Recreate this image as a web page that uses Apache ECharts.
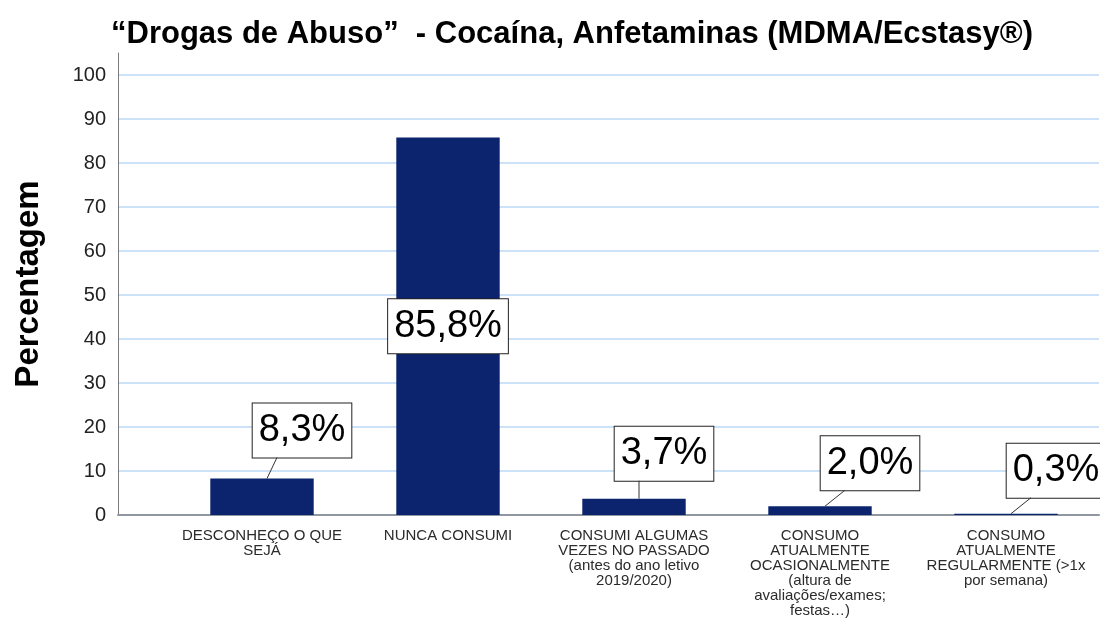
<!DOCTYPE html>
<html>
<head>
<meta charset="utf-8">
<script src="https://cdn.jsdelivr.net/npm/echarts@6/dist/echarts.min.js"></script>
<style>
  html, body { margin: 0; padding: 0; background: #ffffff; }
  #chart { width: 1100px; height: 624px; }
</style>
</head>
<body>
<div id="chart"></div>
<script>
// Response categories (x axis)
const categories = [
  'DESCONHEÇO O QUE\nSEJÁ',
  'NUNCA CONSUMI',
  'CONSUMI ALGUMAS\nVEZES NO PASSADO\n(antes do ano letivo\n2019/2020)',
  'CONSUMO\nATUALMENTE\nOCASIONALMENTE\n(altura de\navaliações/exames;\nfestas…)',
  'CONSUMO\nATUALMENTE\nREGULARMENTE (>1x\npor semana)'
];

// Percentage of respondents per category
const percentages = [8.3, 85.8, 3.7, 2.0, 0.3];

// Value axis ticks
const yTickMax = 100;
const yTickStep = 10;

const titleText = '“Drogas de Abuso”  - Cocaína, Anfetaminas (MDMA/Ecstasy®)';
const yAxisTitle = 'Percentagem';

// Callout placement: horizontal shift and gap above the bar
const labelShift = [40, 0, 30, 50, 50];
const labelGap = [21, 0, 18, 16, 16];
const insideIndex = 1;

const FONT = '"Liberation Sans", Arial, Helvetica, sans-serif';
const axisTop = 53, axisBottom = 109, axisMax = 105;

const chart = echarts.init(document.getElementById('chart'), null, { renderer: 'canvas' });

const fmt = v => v.toFixed(1).replace('.', ',') + '%';

chart.setOption({
  backgroundColor: '#ffffff',
  animation: false,
  title: {
    text: titleText,
    left: 572,
    top: 19,
    padding: 0,
    textAlign: 'center',
    textStyle: { fontFamily: FONT, fontSize: 31, fontWeight: 'bold', color: '#000000' }
  },
  grid: [
    // frame: value axis, grid lines and base line
    { left: 118, right: 1, top: axisTop, bottom: axisBottom, outerBoundsMode: 'none', containLabel: false },
    // bars and category labels
    { left: 169, width: 930, top: axisTop, bottom: axisBottom, outerBoundsMode: 'none', containLabel: false }
  ],
  xAxis: [
    {
      type: 'value', gridIndex: 0, min: 0, max: 1,
      axisLine: { show: true, onZero: false, lineStyle: { color: '#9097a0', width: 2 } },
      axisTick: { show: false }, axisLabel: { show: false }, splitLine: { show: false }
    },
    {
      type: 'category', gridIndex: 1, data: categories,
      axisLine: { show: false }, axisTick: { show: false },
      axisLabel: {
        interval: 0, margin: 13, fontFamily: FONT, fontSize: 15, lineHeight: 15,
        color: '#2b2b2b', align: 'center'
      },
      splitLine: { show: false }
    }
  ],
  yAxis: [
    {
      type: 'value', gridIndex: 0, min: 0, max: axisMax, interval: yTickStep,
      axisLine: { show: true, lineStyle: { color: '#7c7c7c', width: 1 } },
      axisTick: { show: false },
      axisLabel: {
        fontFamily: FONT, fontSize: 20, color: '#222222', margin: 12,
        showMaxLabel: false,
        formatter: v => (v > yTickMax ? '' : String(v))
      },
      splitLine: {
        show: true, showMinLine: false, showMaxLine: false,
        lineStyle: { color: '#cce2f8', width: 2 }
      },
      name: yAxisTitle,
      nameLocation: 'middle',
      nameGap: 73,
      nameTextStyle: { fontFamily: FONT, fontSize: 33, fontWeight: 'bold', color: '#000000' }
    },
    {
      type: 'value', gridIndex: 1, min: 0, max: axisMax, show: false
    }
  ],
  series: [
    {
      type: 'bar',
      xAxisIndex: 1,
      yAxisIndex: 1,
      barWidth: '55.6%',
      itemStyle: { color: '#0b246d' },
      data: percentages.map((v, i) => ({
        value: v,
        label: i === insideIndex
          ? { position: 'inside' }
          : { position: 'top', distance: labelGap[i] }
      })),
      label: {
        show: true,
        formatter: p => fmt(p.value),
        fontFamily: FONT,
        fontSize: 38,
        lineHeight: 40,
        color: '#000000',
        backgroundColor: '#ffffff',
        borderColor: '#222222',
        borderWidth: 1,
        padding: [7, 6]
      },
      labelLayout: p => ({ dx: labelShift[p.dataIndex] })
    },
    {
      // leader lines from each bar top to its shifted callout
      type: 'custom',
      xAxisIndex: 1,
      yAxisIndex: 1,
      silent: true,
      z: 3,
      data: percentages.map((v, i) => [i, v]),
      renderItem: (params, api) => {
        const i = api.value(0);
        if (i === insideIndex) return null;
        const p = api.coord([i, api.value(1)]);
        return {
          type: 'line',
          shape: {
            x1: p[0] + 5, y1: p[1],
            x2: p[0] + labelShift[i] - 25, y2: p[1] - labelGap[i]
          },
          style: { stroke: '#333333', lineWidth: 1 }
        };
      }
    }
  ]
});
</script>
</body>
</html>
